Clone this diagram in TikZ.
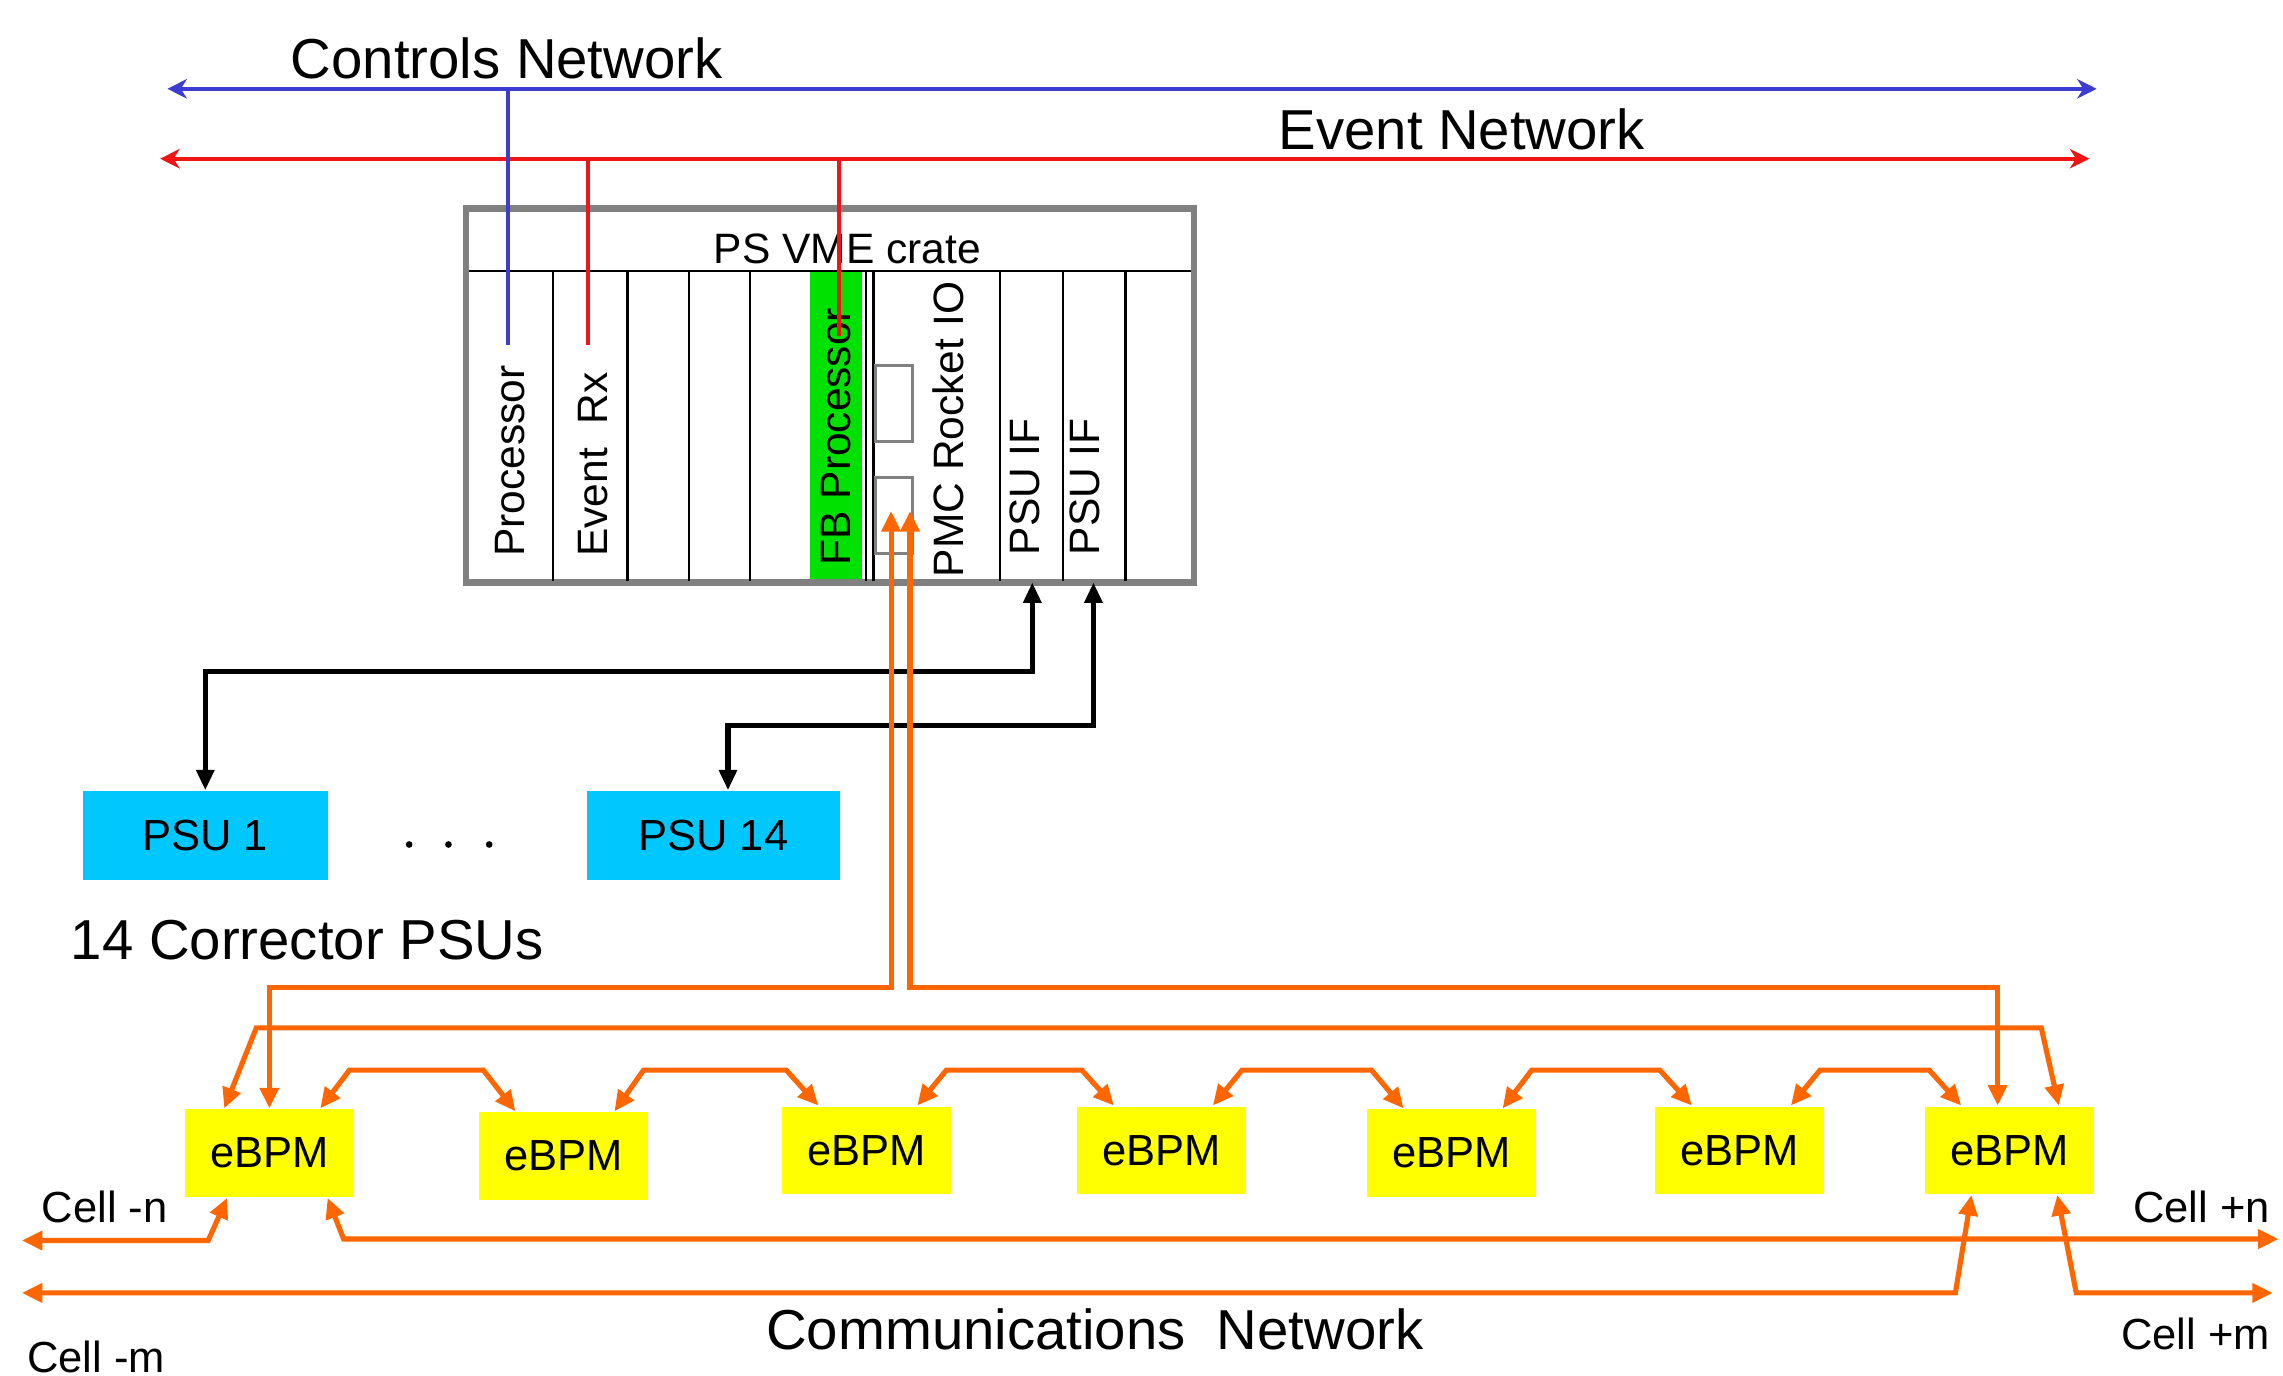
\documentclass[tikz,border=0pt]{standalone}
\usepackage{fontspec}
\setmainfont{Liberation Sans}
\usepackage{tikz}
\usetikzlibrary{calc}
\usetikzlibrary{arrows.meta}
\definecolor{ctrlBlue}{RGB}{60,60,210}
\definecolor{eventRed}{RGB}{240,20,20}
\definecolor{commOrange}{RGB}{255,102,0}
\definecolor{fbGreen}{RGB}{0,225,0}
\definecolor{psuCyan}{RGB}{0,200,255}
\definecolor{bpmYellow}{RGB}{255,255,0}
\definecolor{crateGray}{RGB}{128,128,128}
\newcommand{\bigFont}{\fontsize{11}{13}\selectfont}
\newcommand{\smallFont}{\fontsize{8.5}{10}\selectfont}
\tikzset{ctrl/.style = {ctrlBlue, line width=0.8pt, >={Stealth[length=3.8pt,width=3.8pt,inset=1.2pt]}}}
\tikzset{evnt/.style = {eventRed, line width=0.8pt, >={Stealth[length=3.8pt,width=3.8pt,inset=1.2pt]}}}
\tikzset{comm/.style = {commOrange, line width=1pt, >={Triangle[length=4pt,width=3.6pt]}}}
\tikzset{psulink/.style = {black, line width=1pt, >={Triangle[length=4pt,width=3.4pt]}}}
\tikzset{bpm/.style = {fill=bpmYellow, minimum width=1.16cm, minimum height=0.6cm, inner sep=0pt, font=\smallFont}}
\tikzset{psu/.style = {fill=psuCyan, minimum height=0.61cm, inner sep=0pt, font=\smallFont}}
\tikzset{slotlabel/.style = {rotate=90, anchor=west, inner sep=0pt, font=\fontsize{8.3}{10}\selectfont}}
\begin{document}
\begin{tikzpicture}[x=0.01cm, y=-0.01cm]
                    \useasboundingbox (0,0) rectangle (1568,945);
                    % networks at the top
                    \coordinate (ctrlW) at (115,61);
                    \coordinate (ctrlE) at (1440,61);
                    \coordinate (evW) at (110,109);
                    \coordinate (evE) at (1435,109);
                    \draw[ctrl, <->] (ctrlW) -- (ctrlE);
                    \draw[evnt, <->] (evW) -- (evE);
                    \node[font=\bigFont] (ctrlName) at (348,40) {Controls Network};
                    \node[font=\bigFont] (evName) at (1004,89) {Event Network};

                    % the crate
                    \fill[fbGreen] (556,186) rectangle (592,400);
                    \draw[crateGray, line width=1.3pt] (320,143) rectangle (820,400);
                    \draw[line width=0.5pt] (322,186) -- (818,186);
                    \foreach \x in {380,431,473,515,595,600,687,730,773}
                        \draw[line width=0.45pt] (\x,186) -- (\x,399);
                    \draw[crateGray, line width=0.6pt] (601,251) rectangle (627,303);
                    \draw[crateGray, line width=0.6pt] (601,328) rectangle (627,380);
                    \node[font=\fontsize{8.3}{10}\selectfont] (crateName) at (582,171) {PS VME crate};
                    \node[slotlabel] (proc) at (350,383) {Processor};
                    \node[slotlabel] (evrx) at (407,383) {Event~ Rx};
                    \node[slotlabel] (fbproc) at (574,389) {FB Processor};
                    \node[slotlabel] (rocket) at (651,397) {PMC Rocket IO};
                    \node[slotlabel] (psuifA) at (704,382) {PSU IF};
                    \node[slotlabel] (psuifB) at (745,382) {PSU IF};

                    % drops from the networks into the crate
                    \coordinate (procTap) at (349,61);
                    \coordinate (procEnd) at (349,237);
                    \coordinate (evrxTap) at (404,109);
                    \coordinate (evrxEnd) at (404,237);
                    \coordinate (fbTap) at (576,109);
                    \coordinate (fbEnd) at (576,231);
                    \draw[ctrl] (procTap) -- (procEnd);
                    \draw[evnt] (evrxTap) -- (evrxEnd);
                    \draw[evnt] (fbTap) -- (fbEnd);

                    % corrector power supplies
                    \node[psu, minimum width=1.68cm] (psu1) at (141,574) {PSU 1};
                    \node[psu, minimum width=1.74cm] (psu14) at (490,574) {PSU 14};
                    \foreach \x in {281,308,336}
                        \fill (\x,580) circle (2.3);
                    \node[font=\bigFont] (psuName) at (211,646) {14 Corrector PSUs};
                    \coordinate (ifA) at (709,400);
                    \coordinate (ifB) at (751,400);
                    \coordinate (busA) at (0,461);
                    \coordinate (busB) at (0,498);
                    \draw[psulink, <->] (ifA) |- (psu1.north |- busA) -- (psu1.north);
                    \draw[psulink, <->] (ifB) |- ($(psu14.north |- busB)+(10,0)$) -- ($(psu14.north)+(10,0)$);

                    % eBPMs
                    \foreach \i/\x/\y in {1/185/792, 2/387/794, 3/595/790, 4/798/790, 5/997/792, 6/1195/790, 7/1380/790}
                        \node[bpm] (b\i) at (\x,\y) {eBPM};
                    \coordinate (ring) at (0,735);
                    \foreach \a/\b in {1/2, 2/3, 3/4, 4/5, 5/6, 6/7}
                        \draw[comm, <->] ($(b\a.north)+(35,0)$) -- ($(b\a.north |- ring)+(55,0)$)
                            -- ($(b\b.north |- ring)+(-55,0)$) -- ($(b\b.north)+(-33,0)$);

                    % links from the Rocket IO down to the end eBPMs
                    \coordinate (rioA) at (612,351);
                    \coordinate (rioB) at (625,351);
                    \coordinate (fibre) at (0,678);
                    \draw[comm, <->] (rioA) |- (b1.north |- fibre) -- (b1.north);
                    \draw[comm, <->] (rioB) |- ($(b7.north |- fibre)+(-8,0)$) -- ($(b7.north)+(-8,0)$);
                    \draw[comm, <->] ($(b1.north)+(-31,0)$) -- (176,706) -- (1402,706) -- ($(b7.north)+(34,0)$);

                    % communications network to the other cells
                    \coordinate (cellNW) at (15,852);
                    \coordinate (cellNE) at (1565,851);
                    \coordinate (cellSW) at (15,888);
                    \coordinate (cellSE) at (1561,888);
                    \draw[comm, <->] (cellNW) -- (143,852) -- ($(b1.south)+(-29,0)$);
                    \draw[comm, <->] ($(b1.south)+(40,0)$) -- (236,851) -- (cellNE);
                    \draw[comm, <->] (cellSW) -- (1343,888) -- ($(b7.south)+(-26,0)$);
                    \draw[comm, <->] ($(b7.south)+(33,0)$) -- (1426,888) -- (cellSE);
                    \node[font=\smallFont] (cellmn) at (72,829) {Cell -n};
                    \node[font=\smallFont] (cellmm) at (66,932) {Cell -m};
                    \node[font=\smallFont] (cellpn) at (1512,829) {Cell +n};
                    \node[font=\smallFont] (cellpm) at (1508,916) {Cell +m};
                    \node[font=\bigFont] (commName) at (752,913) {Communications\ \ Network};
                \end{tikzpicture}
\end{document}
